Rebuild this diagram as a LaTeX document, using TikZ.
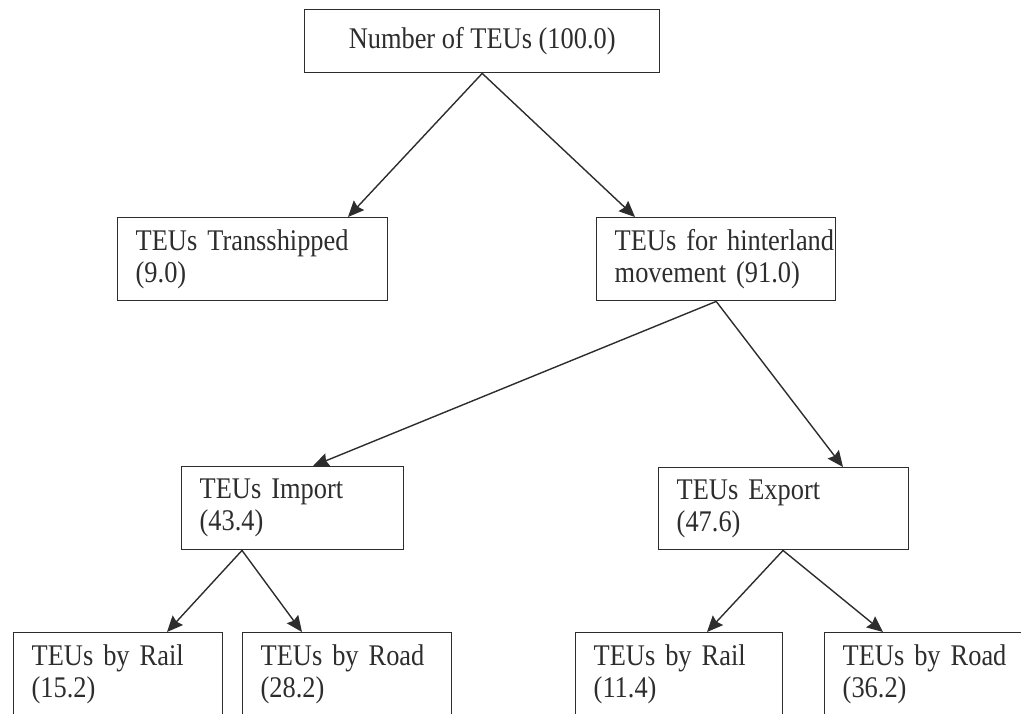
\documentclass[tikz,border=0pt]{standalone}
\usepackage{fontspec}
\setmainfont[FakeStretch=0.88]{Liberation Serif}
\usetikzlibrary{arrows.meta}
\definecolor{ink}{RGB}{45,45,45}
\newcommand\twoline[2]{\mbox{#1}\\\mbox{#2}}
\begin{document}
\begin{tikzpicture}[x=0.5pt,y=-0.5pt,
  box/.style={draw=ink, line width=0.7pt, rectangle, anchor=north west,
    inner xsep=9pt, inner ysep=0pt, align=left, text=ink,
    font=\fontsize{15}{16}\selectfont},
  leaf/.style={box, text width=86.5pt, minimum height=41.5pt},
  link/.style={draw=ink, line width=0.7pt,
    -{Stealth[length=8pt,width=7pt,inset=1pt]}}]
\useasboundingbox (0,0) rectangle (1021,713);
\clip (0,0) rectangle (1021,713);

% level 0
\node[box, align=center, minimum width=177.5pt, minimum height=31.5pt]
  (top) at (304,9) {Number of TEUs (100.0)};

% level 1
\node[box, text width=117pt, minimum height=41.5pt]
  (trans) at (117,217) {\twoline{TEUs Transshipped}{(9.0)}};
\node[box, text width=101.5pt, minimum height=41.5pt]
  (hint) at (596,217) {\twoline{TEUs for hinterland}{movement (91.0)}};

% level 2
\node[box, text width=93pt, minimum height=41.5pt]
  (imp) at (181,466) {\twoline{TEUs Import}{(43.4)}};
\node[box, text width=107pt, minimum height=41pt]
  (exp) at (658,467) {\twoline{TEUs Export}{(47.6)}};

% level 3
\node[leaf] (rail1) at (13,632)  {\twoline{TEUs by Rail}{(15.2)}};
\node[leaf] (road1) at (242,632) {\twoline{TEUs by Road}{(28.2)}};
\node[leaf, text width=85.5pt] (rail2) at (575,632) {\twoline{TEUs by Rail}{(11.4)}};
\node[leaf] (road2) at (824,632) {\twoline{TEUs by Road}{(36.2)}};

% connectors
\draw[link] (top.south) -- ([xshift=115.5pt]trans.north west);
\draw[link] (top.south) -- ([xshift=19.5pt]hint.north west);
\draw[link] (hint.south) -- ([xshift=66pt]imp.north west);
\draw[link] (hint.south) -- ([xshift=92.5pt]exp.north west);
\draw[link] ([xshift=30.5pt]imp.south west) -- ([xshift=77pt]rail1.north west);
\draw[link] ([xshift=30.5pt]imp.south west) -- ([xshift=30pt]road1.north west);
\draw[link] ([xshift=62.5pt]exp.south west) -- ([xshift=66pt]rail2.north west);
\draw[link] ([xshift=62.5pt]exp.south west) -- ([xshift=29.5pt]road2.north west);
\end{tikzpicture}
\end{document}
